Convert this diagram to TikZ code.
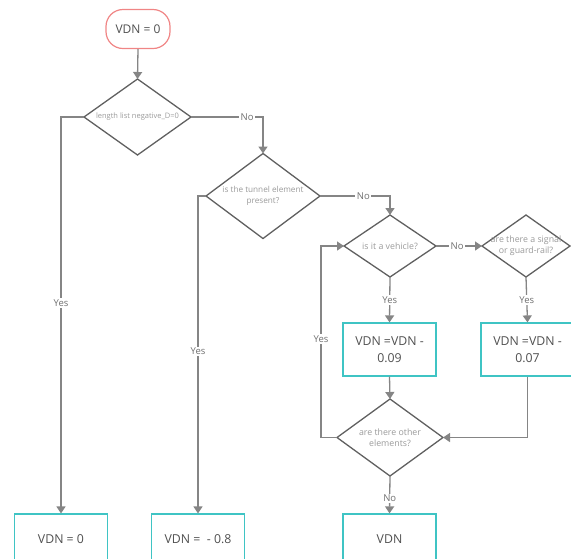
\documentclass[tikz,border=0pt]{standalone}
\usepackage{fontspec}
\setmainfont{Open Sans}
\usetikzlibrary{shapes.geometric,arrows.meta}
\definecolor{pillred}{HTML}{F08585}
\definecolor{teal}{HTML}{3FC4C4}
\definecolor{dline}{HTML}{606060}
\definecolor{cline}{HTML}{858585}
\definecolor{btext}{HTML}{505050}
\definecolor{dtextc}{HTML}{9A9A9A}
\definecolor{ltext}{HTML}{707070}
\tikzset{
  pill/.style={draw=pillred, line width=1.2pt, rounded corners=17pt, minimum width=64pt, minimum height=39pt, inner sep=0pt, text=btext, font=\fontsize{12}{14}\selectfont},
  dia/.style={diamond, draw=dline, line width=1.3pt, inner sep=0pt, outer sep=0pt},
  dtext/.style={text=dtextc, font=\fontsize{7.5}{9.5}\selectfont, align=center, inner sep=0pt},
  dtextb/.style={dtext, font=\fontsize{8.8}{11}\selectfont},
  box/.style={draw=teal, line width=1.2pt, minimum width=93pt, text=btext, font=\fontsize{12.3}{17}\selectfont, align=center, inner sep=0pt},
  conn/.style={draw=cline, line width=1.3pt, -{Triangle[length=7pt,width=9pt]}},
  lab/.style={fill=white, text=ltext, font=\fontsize{9.5}{10}\selectfont, inner sep=1.5pt}
}
\begin{document}
\begin{tikzpicture}[x=1pt,y=-1pt]
\useasboundingbox (0,0) rectangle (571,558);
% nodes
\node[pill] (start) at (138,29) {VDN = 0};
\node[dia, minimum width=107pt, minimum height=76pt] (d1) at (137.5,117) {};
\node[dtext] at (d1) {length list negative\_D=0};
\node[dia, minimum width=114pt, minimum height=85pt] (d2) at (263,196) {};
\node[dtext, font=\fontsize{8.2}{10.5}\selectfont] at (d2) {is the tunnel element\\present?};
\node[dia, minimum width=92pt, minimum height=62pt] (d3) at (390,246) {};
\node[dtextb] at (d3) {is it a vehicle?};
\node[dia, minimum width=88pt, minimum height=62pt] (d5) at (526,246) {};
\node[dtextb] at (d5) {are there a signal\\or guard-rail?};
\node[box, minimum height=53pt] (b4) at (389.5,349.5) {VDN =VDN -\\0.09};
\node[box, minimum height=53pt] (b5) at (527.5,349.5) {VDN =VDN -\\0.07};
\node[dia, minimum width=106pt, minimum height=77pt] (d4) at (390,437.5) {};
\node[dtextb] at (d4) {are there other\\elements?};
\node[box, minimum height=50pt] (b1) at (61,539) {VDN = 0};
\node[box, minimum height=50pt] (b2) at (198,539) {VDN =\ \ - 0.8};
\node[box, minimum height=50pt] (b3) at (389.5,539) {VDN};
\coordinate (lp) at (321,437.5);
% connectors
\draw[conn] (start.south) -- (d1.north);
\draw[conn] (d1.west) -| node[lab, pos=0.735] {Yes} (b1.north);
\draw[conn] (d1.east) -| node[lab, pos=0.39] {No} (d2.north);
\draw[conn] (d2.west) -| node[lab, pos=0.745] {Yes} (b2.north);
\draw[conn] (d2.east) -| node[lab, pos=0.31] {No} (d3.north);
\draw[conn] (d3.east) -- node[lab, pos=0.46] {No} (d5.west);
\draw[conn] (d3.south) -- node[lab] {Yes} (b4.north);
\draw[conn] (d5.south) -- node[lab] {Yes} (b5.north);
\draw[conn] (b4.south) -- (d4.north);
\draw[conn] (b5.south) |- (d4.east);
\draw[conn] (d4.west) -- (lp) |- node[lab, pos=0.258] {Yes} (d3.west);
\draw[conn] (d4.south) -- node[lab, pos=0.6] {No} (b3.north);
\end{tikzpicture}
\end{document}
